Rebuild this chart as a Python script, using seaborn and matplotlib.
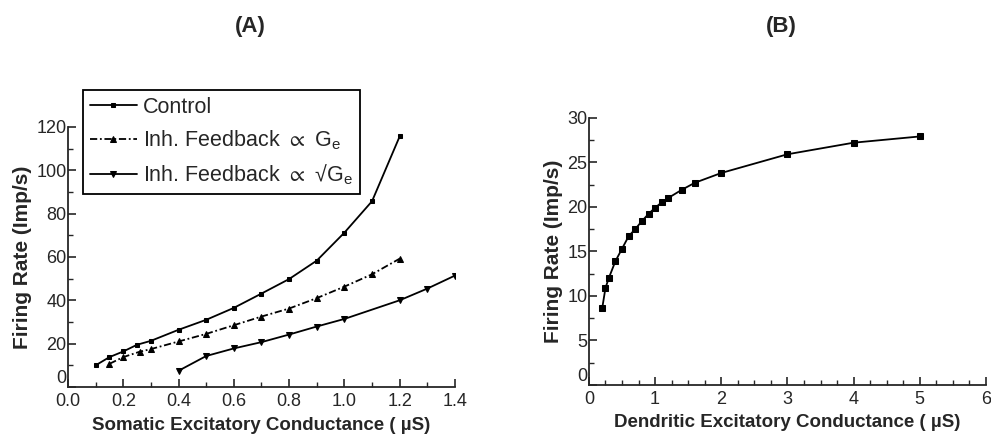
import numpy as np
import pandas as pd
import seaborn as sns
import matplotlib.pyplot as plt

# Panel A: somatic excitatory conductance (uS) vs firing rate (Imp/s)
control_x = [0.1, 0.15, 0.2, 0.25, 0.3, 0.4, 0.5, 0.6, 0.7, 0.8, 0.9, 1.0, 1.1, 1.2]
control_y = [10.0, 13.8, 16.4, 19.5, 21.3, 26.4, 31.0, 36.5, 43.1, 49.8, 58.3, 71.2, 85.7, 115.6]

linear_x = [0.15, 0.2, 0.26, 0.3, 0.4, 0.5, 0.6, 0.7, 0.8, 0.9, 1.0, 1.1, 1.2]
linear_y = [10.7, 13.8, 16.3, 17.5, 21.0, 24.5, 28.5, 32.5, 36.2, 41.0, 46.3, 52.0, 59.2]

sqrt_x = [0.4, 0.5, 0.6, 0.7, 0.8, 0.9, 1.0, 1.2, 1.3, 1.4]
sqrt_y = [7.5, 14.3, 17.8, 20.7, 24.2, 27.9, 31.4, 40.0, 45.4, 51.4]

# Panel B: dendritic excitatory conductance (uS) vs firing rate (Imp/s)
dend_x = [0.2, 0.25, 0.3, 0.4, 0.5, 0.6, 0.7, 0.8, 0.9, 1.0, 1.1, 1.2, 1.4, 1.6, 2.0, 3.0, 4.0, 5.0]
dend_y = [8.6, 10.9, 12.0, 13.9, 15.3, 16.7, 17.5, 18.4, 19.2, 19.9, 20.5, 21.0, 21.9, 22.7, 23.8, 25.9, 27.2, 27.9]

labels = ['Control',
          'Inh. Feedback $\\propto$ G$_\\mathregular{e}$',
          'Inh. Feedback $\\propto$ \u221aG$_\\mathregular{e}$']

sns.set_style('ticks')
plt.rcParams['font.family'] = ['Liberation Sans', 'DejaVu Sans']
plt.rcParams['mathtext.default'] = 'regular'
plt.rcParams['axes.linewidth'] = 1.3

fig = plt.figure(figsize=(9.91, 4.41), dpi=100)
ax_a = fig.add_axes([0.0686, 0.1224, 0.3905, 0.590])
ax_b = fig.add_axes([0.5943, 0.127, 0.4006, 0.606])

series = [
    (control_x, control_y, 's', None, 3.5),
    (linear_x, linear_y, '^', (4, 1.5, 1, 1.5), 5),
    (sqrt_x, sqrt_y, 'v', None, 5),
]
for (xs, ys, mk, dash, ms), lab in zip(series, labels):
    df = pd.DataFrame({'x': xs, 'y': ys})
    sns.lineplot(data=df, x='x', y='y', ax=ax_a, color='black', marker=mk,
                 markersize=ms, markeredgecolor='black', linewidth=1.3, label=lab)
    if dash is not None:
        ax_a.lines[-1].set_dashes(dash)

df_b = pd.DataFrame({'x': dend_x, 'y': dend_y})
sns.lineplot(data=df_b, x='x', y='y', ax=ax_b, color='black', marker='s',
             markersize=3.8, markeredgecolor='black', linewidth=1.3)

ax_a.set_xlim(0, 1.4)
ax_a.set_ylim(0, 120)
ax_a.set_xticks(np.arange(0, 1.41, 0.2))
ax_a.set_xticks(np.arange(0, 1.41, 0.1), minor=True)
ax_a.set_yticks(np.arange(0, 121, 20))
ax_a.set_yticks(np.arange(0, 121, 10), minor=True)
ax_a.xaxis.set_major_formatter(plt.FormatStrFormatter('%.1f'))

ax_b.set_xlim(0, 6)
ax_b.set_ylim(0, 30)
ax_b.set_xticks(np.arange(0, 7, 1))
ax_b.set_xticks(np.arange(0, 6.01, 0.25), minor=True)
ax_b.set_yticks(np.arange(0, 31, 5))
ax_b.set_yticks(np.arange(0, 30.1, 2.5), minor=True)

for ax, xl in [(ax_a, 'Somatic Excitatory Conductance ( \u00b5S)'),
               (ax_b, 'Dendritic Excitatory Conductance ( \u00b5S)')]:
    sns.despine(ax=ax)
    ax.tick_params(which='major', direction='in', length=6, width=1.2, labelsize=13, pad=1)
    ax.tick_params(which='minor', direction='in', length=3.5, width=1.0)
    ax.tick_params(axis='x', which='major', pad=4)
    ax.set_xlabel(xl, fontsize=13.5, fontweight='bold', labelpad=5)
    ax.set_ylabel('Firing Rate (Imp/s)', fontsize=15, fontweight='bold', labelpad=3)
    # keep the y "0" clear of the x "0" just below it
    ax.get_yticklabels()[0].set_verticalalignment('bottom')

fig.text(0.253, 0.941, '(A)', fontsize=16, fontweight='bold', ha='center', va='center')
fig.text(0.788, 0.941, '(B)', fontsize=16, fontweight='bold', ha='center', va='center')

leg = ax_a.legend(loc='upper left', bbox_to_anchor=(0.039, 1.141), frameon=True, fancybox=False,
                  edgecolor='black', fontsize=15.5, handlelength=2.2, handletextpad=0.3,
                  borderpad=0.3, labelspacing=0.5, borderaxespad=0)
leg.get_frame().set_linewidth(1.3)
leg.get_frame().set_alpha(1)

plt.savefig('out.png', dpi=100)
